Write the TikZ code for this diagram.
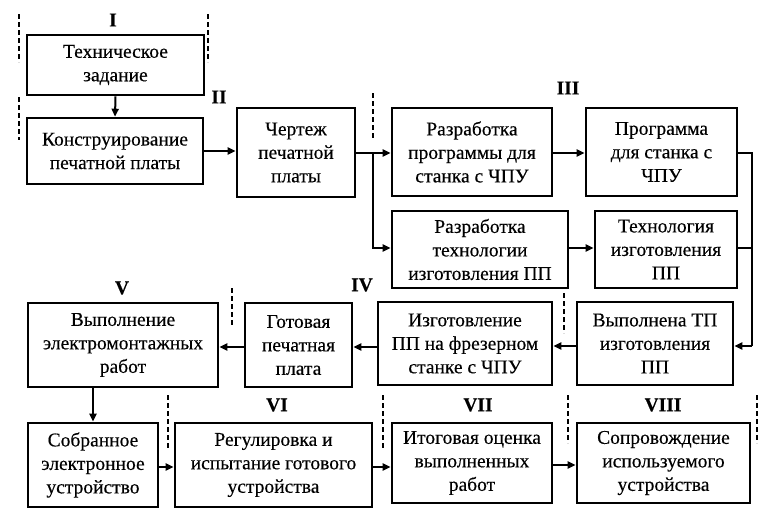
\documentclass[tikz,border=0pt]{standalone}
\usepackage{fontspec}
\setmainfont{Liberation Serif}[FakeBold=0.3]
\usetikzlibrary{arrows.meta}
\tikzset{
  box/.style={draw,line width=2.6pt,align=center,inner sep=0pt,font=\fontsize{19.5}{23.5}\selectfont},
  arr/.style={line width=2pt,-{Triangle[length=8pt,width=7pt]}},
  wire/.style={line width=2pt},
  sep/.style={line width=2.5pt,dash pattern=on 5pt off 3pt},
  stage/.style={font=\fontsize{19.5}{20}\selectfont\bfseries}
}
\begin{document}
\begin{tikzpicture}[x=1pt,y=-1pt]
   \useasboundingbox (0,0) rectangle (769,515);

   % boxes
   \node[box,minimum width=177pt,minimum height=60pt] (tz) at (115.5,65) {Техническое\\задание};
   \node[box,minimum width=176pt,minimum height=66pt] (konstr) at (115,151) {Конструирование\\печатной платы};
   \node[box,minimum width=118pt,minimum height=89pt] (chert) at (296,152.5) {Чертеж\\печатной\\платы};
   \node[box,minimum width=160pt,minimum height=88pt] (razrprog) at (472,152) {Разработка\\программы для\\станка с ЧПУ};
   \node[box,minimum width=151pt,minimum height=88pt] (prog) at (661.5,152) {Программа\\для станка с\\ЧПУ};
   \node[box,minimum width=176pt,minimum height=77pt] (razrtech) at (480,249.5) {Разработка\\технологии\\изготовления ПП};
   \node[box,minimum width=142pt,minimum height=77pt] (tech) at (666,249.5) {Технология\\изготовления\\ПП};
   \node[box,minimum width=156pt,minimum height=83pt] (vypTP) at (655,343.5) {Выполнена ТП\\изготовления\\ПП};
   \node[box,minimum width=174pt,minimum height=83pt] (izgot) at (465,343.5) {Изготовление\\ПП на фрезерном\\станке с ЧПУ};
   \node[box,minimum width=107pt,minimum height=84pt] (gotov) at (298.5,345) {Готовая\\печатная\\плата};
   \node[box,minimum width=190pt,minimum height=84pt] (montazh) at (123,345) {Выполнение\\электромонтажных\\работ};
   \node[box,minimum width=130pt,minimum height=84pt] (sobr) at (93,465) {Собранное\\электронное\\устройство};
   \node[box,minimum width=197pt,minimum height=84pt] (regul) at (273.5,465) {Регулировка и\\испытание готового\\устройства};
   \node[box,minimum width=160pt,minimum height=80pt] (itog) at (472,463) {Итоговая оценка\\выполненных\\работ};
   \node[box,minimum width=173pt,minimum height=80pt] (soprov) at (663.5,463) {Сопровождение\\используемого\\устройства};

   % stages
   \node[stage] (s1) at (113,20) {I};
   \node[stage] (s2) at (219,97) {II};
   \node[stage] (s3) at (568,88) {III};
   \node[stage] (s4) at (362,285) {IV};
   \node[stage] (s5) at (122,288) {V};
   \node[stage] (s6) at (277,405) {VI};
   \node[stage] (s7) at (478,405) {VII};
   \node[stage] (s8) at (663,405) {VIII};

   % borders of stages
   \draw[sep] (19,14) -- (19,62);
   \draw[sep] (19,97) -- (19,140);
   \draw[sep] (208,14) -- (208,62);
   \draw[sep] (373,93) -- (373,140);
   \draw[sep] (232,288) -- (232,325);
   \draw[sep] (564,293) -- (564,333);
   \draw[sep] (168,395) -- (168,448);
   \draw[sep] (383,395) -- (383,448);
   \draw[sep] (568,395) -- (568,443);
   \draw[sep] (757,395) -- (757,443);

   % connections
   \coordinate (split) at (373,153);
   \coordinate (rbus) at (752,346);
   \draw[arr] (tz.south) -- (konstr.north);
   \draw[arr] (konstr.east) -- (konstr.east -| chert.west);
   \draw[arr] (chert.east |- split) -- (split -| razrprog.west);
   \draw[arr] (split) |- (razrtech.west |- 0,248);
   \draw[arr] (razrprog.east |- split) -- (split -| prog.west);
   \draw[arr] (razrtech.east |- 0,248) -- (tech.west |- 0,248);
   \draw[wire] (prog.east |- split) -| (rbus);
   \draw[wire] (tech.east |- 0,248) -- (rbus |- 0,248);
   \draw[arr] (rbus) -- (vypTP.east |- rbus);
   \draw[arr] (vypTP.west |- rbus) -- (izgot.east |- rbus);
   \draw[arr] (izgot.west |- 0,347) -- (gotov.east |- 0,347);
   \draw[arr] (gotov.west |- 0,347) -- (montazh.east |- 0,347);
   \draw[arr] (montazh.south -| sobr.north) -- (sobr.north);
   \draw[arr] (sobr.east |- 0,467) -- (regul.west |- 0,467);
   \draw[arr] (regul.east |- 0,467) -- (itog.west |- 0,467);
   \draw[arr] (itog.east |- 0,465) -- (soprov.west |- 0,465);
\end{tikzpicture}
\end{document}
